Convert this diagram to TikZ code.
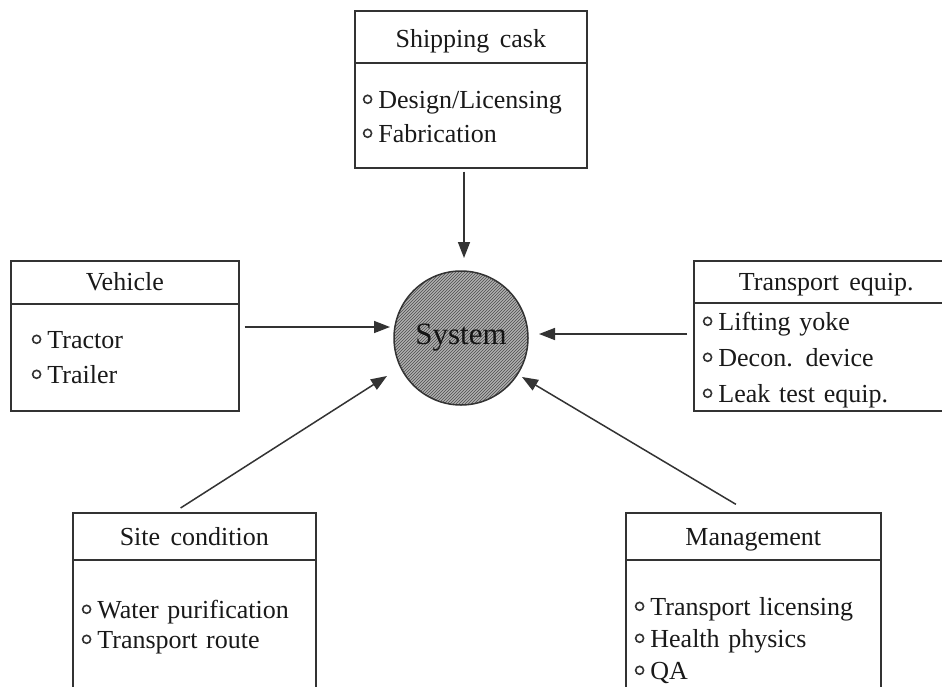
\documentclass[tikz,border=0pt]{standalone}
\usepackage{fontspec}
\setmainfont{Liberation Serif}[WordSpace=1.6]
\usetikzlibrary{arrows.meta,patterns,calc}
\newcommand\ringb{\tikz[baseline=0pt,x=1pt,y=1pt]\draw[line width=1.6pt,black!80] (4.8,9.5) circle (4.0);\hspace{6pt}}
\tikzset{
  ink/.style={draw=black!80, line width=1.6pt, text=black!90},
  headbox/.style={ink, rectangle, anchor=north west, inner xsep=0pt, inner ysep=0pt, align=center,
    font=\fontsize{26pt}{30pt}\selectfont},
  bodybox/.style={ink, rectangle, anchor=north west, inner ysep=0pt, align=left},
  arr/.style={draw=black!80, line width=1.5pt, -{Triangle[length=16pt,width=12pt]}},
}
\begin{document}
\begin{tikzpicture}[x=1pt,y=-1pt]
\useasboundingbox (0,0) rectangle (942,686);
\fill[white] (0,0) rectangle (942,686);
\clip (0,0) rectangle (942,686);

% Shipping cask
\node[headbox, minimum width=232pt, text height=37pt, text depth=15pt] (shipT) at (354,10) {Shipping cask};
\node[bodybox, inner xsep=8pt, text width=216pt, text height=46pt, text depth=59pt,
      font=\fontsize{26pt}{34pt}\selectfont] (shipB) at (354,62)
  {\ringb Design/Licensing\\ \ringb Fabrication};

% Vehicle
\node[headbox, minimum width=228pt, text height=30pt, text depth=13pt] (vehT) at (10,260) {Vehicle};
\node[bodybox, inner xsep=21pt, text width=186pt, text height=45pt, text depth=62pt,
      font=\fontsize{26pt}{35pt}\selectfont] (vehB) at (10,303)
  {\ringb Tractor\\ \ringb Trailer};

% Transport equip.
\node[headbox, minimum width=265pt, text height=30pt, text depth=12pt] (trT) at (693,260) {Transport equip.};
\node[bodybox, inner xsep=9pt, text width=247pt, text height=28pt, text depth=80pt,
      font=\fontsize{26pt}{36pt}\selectfont] (trB) at (693,302)
  {\ringb Lifting yoke\\ \ringb Decon. device\\ \ringb Leak test equip.};

% Site condition
\node[headbox, minimum width=243pt, text height=33pt, text depth=14pt] (siteT) at (72,512) {Site condition};
\node[bodybox, inner xsep=9pt, text width=225pt, text height=59pt, text depth=102pt,
      font=\fontsize{26pt}{30pt}\selectfont] (siteB) at (72,559)
  {\ringb Water purification\\ \ringb Transport route};

% Management
\node[headbox, minimum width=255pt, text height=33pt, text depth=14pt] (mgmtT) at (625,512) {Management};
\node[bodybox, inner xsep=9pt, text width=237pt, text height=56pt, text depth=105pt,
      font=\fontsize{26pt}{32pt}\selectfont] (mgmtB) at (625,559)
  {\ringb Transport licensing\\ \ringb Health physics\\ \ringb QA};

% System
\node[circle, draw=black!80, line width=1.5pt, minimum size=134pt, inner sep=0pt,
      preaction={fill=gray!62}, pattern=north east lines, pattern color=black!70,
      text=black!92, font=\fontsize{31pt}{34pt}\selectfont] (sys) at (461,338) {System};

% arrow tips near the circle
\coordinate (tipS) at (464,258);
\coordinate (tipV) at (390,327);
\coordinate (tipT) at (539,334);
\coordinate (tipSite) at (387,376);
\coordinate (tipM) at (522,377);

\draw[arr, shorten <=3pt] (shipB.south -| tipS) -- (tipS);
\draw[arr, shorten <=5pt] (vehB.east |- tipV) -- (tipV);
\draw[arr, shorten <=6pt] (trB.west |- tipT) -- (tipT);
\draw[arr, shorten <=7.5pt] ($(siteT.north)+(-20,0)$) -- (tipSite);
\draw[arr, shorten <=15pt] ($(mgmtT.north)+(-4.5,0)$) -- (tipM);
\end{tikzpicture}
\end{document}
